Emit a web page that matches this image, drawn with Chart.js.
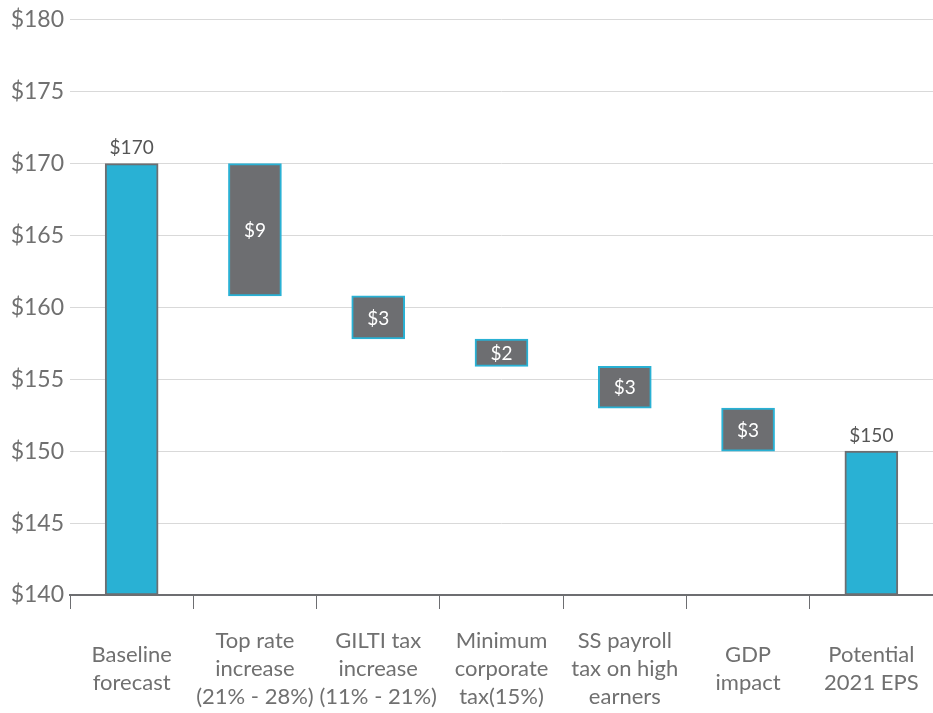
<!DOCTYPE html>
<html>
<head>
<meta charset="utf-8">
<script src="https://cdn.jsdelivr.net/npm/chart.js@4"></script>
<style>
  body { margin: 0; background: #fff; }
  #wrap { width: 933px; height: 713px; }
</style>
</head>
<body>
<div id="wrap"><canvas id="eps-chart" width="933" height="713"></canvas></div>
<script>
// categories (multi-line labels)
const categories = [
  ['Baseline', 'forecast'],
  ['Top rate', 'increase', '(21% - 28%)'],
  ['GILTI tax', 'increase', '(11% - 21%)'],
  ['Minimum', 'corporate', 'tax(15%)'],
  ['SS payroll', 'tax on high', 'earners'],
  ['GDP', 'impact'],
  ['Potential', '2021 EPS']
];
// bottom and top of each bar (waterfall)
const barLows  = [140, 160.8, 157.8, 155.9, 153.0, 150.0, 140];
const barHighs = [170, 170.0, 160.8, 157.8, 155.9, 153.0, 150];
const valueLabels = ['$170', '$9', '$3', '$2', '$3', '$3', '$150'];
const isTotal = [true, false, false, false, false, false, true];
const yTicks = [140, 145, 150, 155, 160, 165, 170, 175, 180];

const blue = '#29B1D4';
const grey = '#6D6E71';
const textGrey = '#707070';

const ranges = [];
for (let i = 0; i < barLows.length; i++) {
  ranges.push([barLows[i], barHighs[i]]);
}

// draw value labels: above total bars, inside change bars
const valueLabelPlugin = {
  id: 'valueLabels',
  afterDatasetsDraw(chart) {
    const c = chart.ctx;
    const meta = chart.getDatasetMeta(0);
    c.save();
    c.font = '19px Lato';
    c.textAlign = 'center';
    meta.data.forEach(function(bar, i) {
      if (isTotal[i]) {
        c.fillStyle = '#555';
        c.textBaseline = 'bottom';
        c.fillText(valueLabels[i], bar.x, bar.y - 6);
      } else {
        c.fillStyle = '#fff';
        c.textBaseline = 'middle';
        c.fillText(valueLabels[i], bar.x, (bar.y + bar.base) / 2 + 1);
      }
    });
    c.restore();
  }
};

new Chart(document.getElementById('eps-chart'), {
  type: 'bar',
  data: {
    labels: categories,
    datasets: [{
      data: ranges,
      backgroundColor: isTotal.map(t => t ? blue : grey),
      borderColor: isTotal.map(t => t ? grey : blue),
      borderWidth: 2,
      borderSkipped: false,
      barThickness: 53
    }]
  },
  options: {
    responsive: false,
    animation: false,
    layout: { padding: { top: 19, right: 0, left: 0, bottom: 0 } },
    plugins: {
      legend: { display: false },
      tooltip: { enabled: false }
    },
    scales: {
      x: {
        grid: {
          drawOnChartArea: false,
          drawTicks: true,
          tickLength: 14,
          offset: true,
          color: grey
        },
        border: { display: true, color: grey, width: 2 },
        ticks: {
          color: textGrey,
          font: { family: 'Lato', size: 22, lineHeight: 1.27 },
          padding: 32,
          maxRotation: 0,
          autoSkip: false,
          crossAlign: 'center'
        },
        afterFit(scale) {
          scale.height = 118;
          scale.paddingLeft = 0;
          scale.paddingRight = 0;
        }
      },
      y: {
        min: 140,
        max: 180,
        afterBuildTicks(scale) {
          scale.ticks = yTicks.map(v => ({ value: v }));
        },
        grid: {
          color: '#D9D9D9',
          lineWidth: 1,
          drawTicks: false
        },
        border: { display: false },
        ticks: {
          color: textGrey,
          font: { family: 'Lato', size: 23 },
          padding: 6,
          callback: v => '$' + v
        },
        afterFit(scale) { scale.width = 70; }
      }
    }
  },
  plugins: [valueLabelPlugin]
});
</script>
</body>
</html>
